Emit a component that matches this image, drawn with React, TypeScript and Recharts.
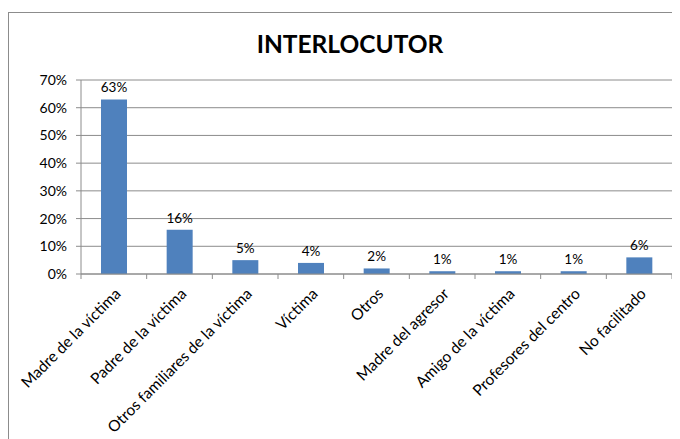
import { BarChart, Bar, XAxis, YAxis, CartesianGrid, LabelList } from "recharts";

const categories = [
  "Madre de la víctima",
  "Padre de la víctima",
  "Otros familiares de la víctima",
  "Víctima",
  "Otros",
  "Madre del agresor",
  "Amigo de la víctima",
  "Profesores del centro",
  "No facilitado",
];
const percentages = [63, 16, 5, 4, 2, 1, 1, 1, 6];
const yTicks = [0, 10, 20, 30, 40, 50, 60, 70];

const data = categories.map((name, i) => ({ name, value: percentages[i] }));

const FONT = "Lato, 'DejaVu Sans', sans-serif";
const GRID = "#8c8c8c";
const PLOT_WIDTH = 591;
const BAND = PLOT_WIDTH / categories.length;

function CategoryTick(props: any) {
  const { x, y, payload, index } = props;
  const half = BAND / 2;
  return (
    <g>
      <line x1={x - half} y1={y - 8} x2={x - half} y2={y - 3} stroke={GRID} />
      {index === categories.length - 1 && (
        <line x1={x + half} y1={y - 8} x2={x + half} y2={y - 3} stroke={GRID} />
      )}
      <g transform={`translate(${x + 4},${y + 9})`}>
        <text
          textAnchor="end"
          transform="rotate(-45)"
          dy="0.35em"
          fontSize={15.5}
          fontFamily={FONT}
          fill="#000"
        >
          {payload.value}
        </text>
      </g>
    </g>
  );
}

export default function App() {
  return (
    <div
      style={{
        position: "relative",
        marginTop: 4,
        width: 671,
        height: 427,
        borderLeft: `1px solid ${GRID}`,
        borderTop: `1px solid ${GRID}`,
        fontFamily: FONT,
      }}
    >
      <div
        style={{
          position: "absolute",
          left: 10,
          width: 662,
          top: 16,
          textAlign: "center",
          fontSize: 24.5,
          fontWeight: 700,
          color: "#000",
        }}
      >
        INTERLOCUTOR
      </div>
      <BarChart
        width={671}
        height={426}
        data={data}
        margin={{ top: 67, right: 8, bottom: 0, left: 0 }}
      >
        <CartesianGrid vertical={false} stroke={GRID} />
        <XAxis
          dataKey="name"
          interval={0}
          height={165}
          axisLine={{ stroke: GRID }}
          tickLine={false}
          tick={<CategoryTick />}
        />
        <YAxis
          width={72}
          domain={[0, 70]}
          ticks={yTicks}
          tickFormatter={(v) => `${v}%`}
          axisLine={{ stroke: GRID }}
          tickLine={{ stroke: GRID }}
          tickSize={5}
          tickMargin={9}
          tick={{ fill: "#000", fontSize: 14, fontFamily: FONT }}
        />
        <Bar dataKey="value" fill="#4f81bd" barSize={26} isAnimationActive={false}>
          <LabelList
            dataKey="value"
            position="top"
            offset={7}
            formatter={(v: any) => `${v}%`}
            style={{ fill: "#000", fontSize: 13.5, fontFamily: FONT }}
          />
        </Bar>
      </BarChart>
    </div>
  );
}
